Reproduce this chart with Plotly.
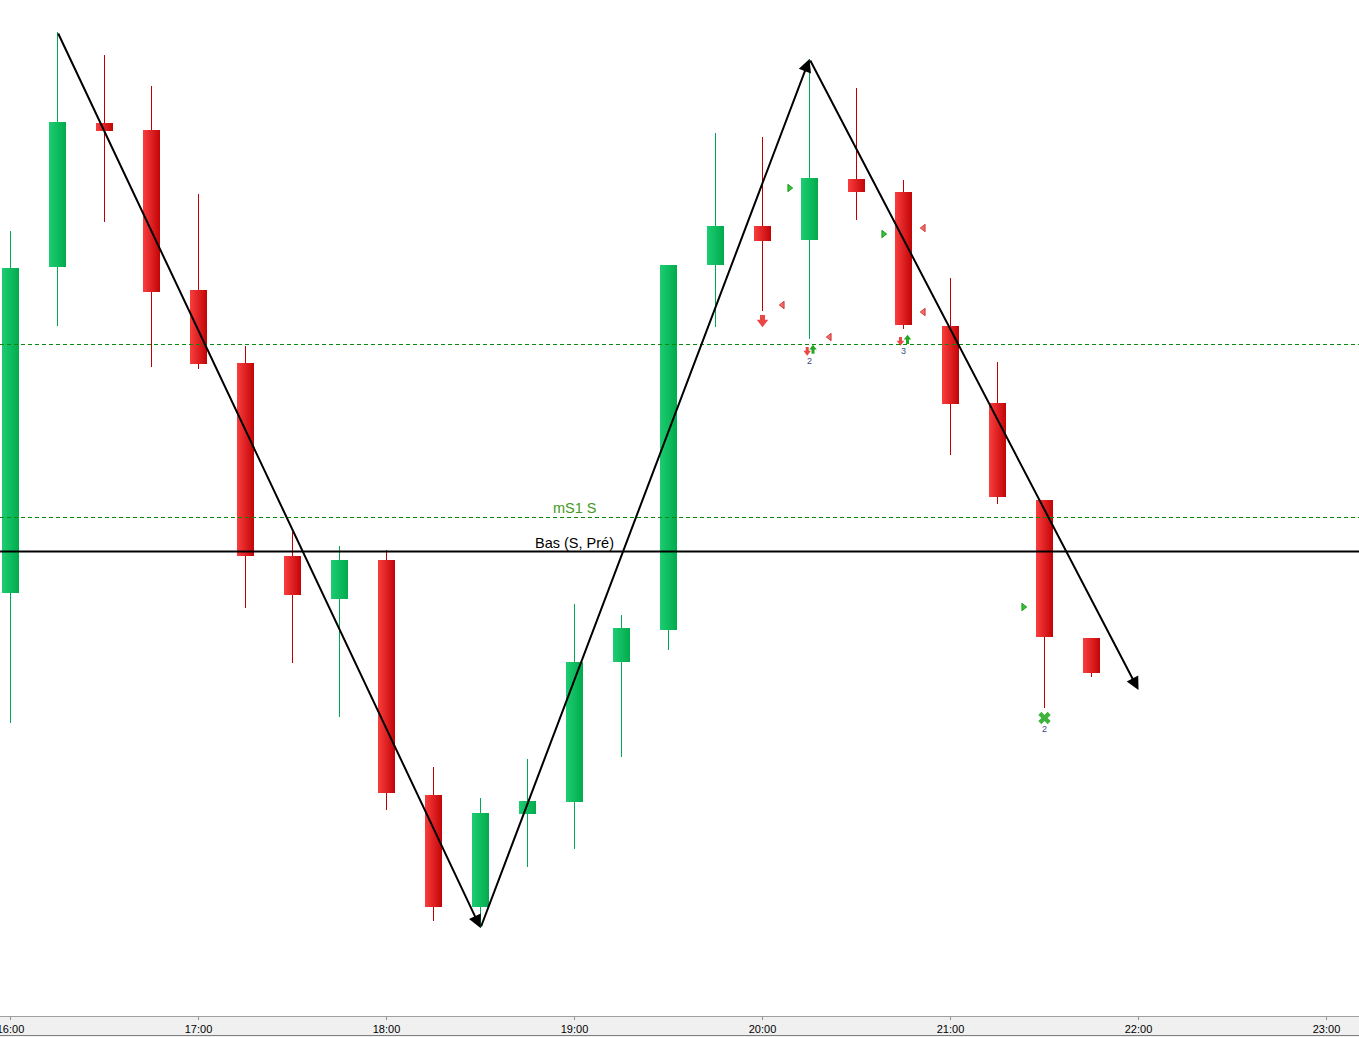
import plotly.graph_objects as go
import pandas as pd

DAY = "2024-01-15"

# ---------------- data ----------------
TIMES = ["16:00", "16:15", "16:30", "16:45", "17:00", "17:15", "17:30", "17:45",
         "18:00", "18:15", "18:30", "18:45", "19:00", "19:15", "19:30", "19:45",
         "20:00", "20:15", "20:30", "20:45", "21:00", "21:15", "21:30", "21:45"]
OPEN = [407, 733, 877, 870, 710, 637, 444, 401, 440, 205, 93, 186,
        198, 338, 370, 735, 774, 760, 821, 808, 674, 597, 500, 362]
HIGH = [769, 968, 945, 914, 806, 654, 468, 454, 450, 233, 202, 241,
        396, 385, 735, 867, 863, 941, 912, 820, 722, 638, 500, 362]
LOW = [277, 674, 778, 633, 631, 392, 337, 283, 190, 79, 72, 133,
       151, 243, 350, 673, 689, 661, 780, 671, 545, 496, 292, 323]
CLOSE = [732, 878, 869, 708, 636, 444, 405, 440, 207, 93, 187, 199,
         338, 372, 735, 774, 759, 822, 808, 675, 596, 503, 363, 327]

TICK_LABELS = ["16:00", "17:00", "18:00", "19:00", "20:00", "21:00", "22:00", "23:00"]

LEVEL_MS1 = 482.5
LEVEL_UPPER = 655.5
LEVEL_BAS = 448.5

ZIGZAG_T = ["16:15", "18:30", "20:15", "22:00"]
ZIGZAG_V = [968, 72, 941, 310]

GREEN_TRI_T = ["20:08:37", "20:38:37", "21:23:18"]
GREEN_TRI_V = [812, 766, 393]
RED_TRI_T = ["20:06:23", "20:21:23", "20:51:23", "20:51:23"]
RED_TRI_V = [695, 663, 772, 688]

DOWN_T = ["20:00:00", "20:14:16", "20:44:02"]
DOWN_TAIL = [685, 653, 663]
DOWN_TIP = [672.7, 644.3, 654.3]
DOWN_BIG = [True, False, False]
UP_T = ["20:16:07", "20:46:17"]
UP_TAIL = [646.3, 656]
UP_TIP = [655.3, 665.3]

CROSS_T = ["21:30"]
CROSS_V = [282]
COUNT_T = ["20:15", "20:45", "21:30"]
COUNT_V = [638, 648, 270]
COUNT_TXT = ["2", "3", "2"]


def ts(t):
    return pd.Timestamp(f"{DAY} {t}")


def fmt(t):
    return t.strftime("%Y-%m-%d %H:%M:%S.%f")


# ---------------- scale helpers ----------------
PX_MS = 3600000 / 188.0  # ms per pixel horizontally
x0 = ts(TIMES[0]) - pd.Timedelta(milliseconds=10.5 * PX_MS)
x1 = x0 + pd.Timedelta(milliseconds=1359 * PX_MS)

xs = [fmt(ts(t)) for t in TIMES]
n = len(TIMES)
up = [c >= o for o, c in zip(OPEN, CLOSE)]


def lerp(c1, c2, f):
    return "rgb(%d,%d,%d)" % tuple(round(a + (b - a) * f) for a, b in zip(c1, c2))


RED_L, RED_R = (248, 60, 60), (196, 6, 8)
GRN_L, GRN_R = (28, 204, 112), (2, 172, 78)
WICK_RED = "#c00000"
WICK_GRN = "#00a850"

fig = go.Figure()

# wicks (1px bars)
fig.add_trace(go.Bar(
    x=xs, base=LOW, y=[h - l for h, l in zip(HIGH, LOW)],
    width=[PX_MS] * n, offset=-0.5 * PX_MS,
    marker=dict(color=[WICK_GRN if u else WICK_RED for u in up], line=dict(width=0)),
    hoverinfo="skip", showlegend=False))

# bodies with horizontal gradient, built from thin slices
NS = 17
for i in range(NS):
    f = i / (NS - 1)
    cols = [lerp(GRN_L, GRN_R, f) if u else lerp(RED_L, RED_R, f) for u in up]
    w = (1.6 if i < NS - 1 else 1.0) * PX_MS
    fig.add_trace(go.Bar(
        x=xs, base=[min(o, c) for o, c in zip(OPEN, CLOSE)],
        y=[max(abs(c - o), 1) for o, c in zip(OPEN, CLOSE)],
        width=[w] * n, offset=(-8.5 + i) * PX_MS,
        marker=dict(color=cols, line=dict(width=0)),
        hoverinfo="skip", showlegend=False))

# signal triangles
fig.add_trace(go.Scatter(
    x=[fmt(ts(t)) for t in GREEN_TRI_T], y=GREEN_TRI_V, mode="markers",
    marker=dict(symbol="triangle-right", size=6.5, color="#36c236",
                line=dict(color="#128a12", width=0.8)),
    hoverinfo="skip", showlegend=False))
fig.add_trace(go.Scatter(
    x=[fmt(ts(t)) for t in RED_TRI_T], y=RED_TRI_V, mode="markers",
    marker=dict(symbol="triangle-left", size=6.5, color="#f06a6a",
                line=dict(color="#c82828", width=0.8)),
    hoverinfo="skip", showlegend=False))

# block arrows (shaft + head)
ARROW_RED = "#ea4646"
ARROW_GRN = "#22a822"
for t, tail, tip, big in zip(DOWN_T, DOWN_TAIL, DOWN_TIP, DOWN_BIG):
    s = 10 if big else 6.5
    c = tip + s / 2
    fig.add_trace(go.Scatter(x=[fmt(ts(t))] * 2, y=[tail, c], mode="lines",
                             line=dict(color=ARROW_RED, width=5 if big else 3),
                             hoverinfo="skip", showlegend=False))
    fig.add_trace(go.Scatter(x=[fmt(ts(t))], y=[c], mode="markers",
                             marker=dict(symbol="triangle-down", size=s, color=ARROW_RED,
                                         line=dict(width=0)),
                             hoverinfo="skip", showlegend=False))
for t, tail, tip in zip(UP_T, UP_TAIL, UP_TIP):
    s = 6.5
    c = tip - s / 2
    fig.add_trace(go.Scatter(x=[fmt(ts(t))] * 2, y=[tail, c], mode="lines",
                             line=dict(color=ARROW_GRN, width=3),
                             hoverinfo="skip", showlegend=False))
    fig.add_trace(go.Scatter(x=[fmt(ts(t))], y=[c], mode="markers",
                             marker=dict(symbol="triangle-up", size=s, color=ARROW_GRN,
                                         line=dict(width=0)),
                             hoverinfo="skip", showlegend=False))

# cross marker and count labels
fig.add_trace(go.Scatter(
    x=[fmt(ts(t)) for t in CROSS_T], y=CROSS_V, mode="markers",
    marker=dict(symbol="x", size=11, color="#3cb43c", line=dict(width=0)),
    hoverinfo="skip", showlegend=False))
fig.add_trace(go.Scatter(
    x=[fmt(ts(t)) for t in COUNT_T], y=COUNT_V, mode="text", text=COUNT_TXT,
    textfont=dict(family="Arial, Liberation Sans", size=9, color="#3c4a80"),
    hoverinfo="skip", showlegend=False))

# horizontal levels
shapes = [
    dict(type="line", xref="paper", x0=0, x1=1, yref="y", y0=LEVEL_UPPER, y1=LEVEL_UPPER,
         line=dict(color="#0a8a0a", width=1, dash="4px,3px"), layer="above"),
    dict(type="line", xref="paper", x0=0, x1=1, yref="y", y0=LEVEL_MS1, y1=LEVEL_MS1,
         line=dict(color="#0a8a0a", width=1, dash="4px,3px"), layer="above"),
    dict(type="line", xref="paper", x0=0, x1=1, yref="y", y0=LEVEL_BAS, y1=LEVEL_BAS,
         line=dict(color="#000000", width=2), layer="above"),
    dict(type="line", xref="paper", x0=0, x1=1, yref="paper", y0=-0.0192, y1=-0.0192,
         line=dict(color="#808080", width=1), layer="above"),
]

annotations = [
    dict(x=fmt(ts("19:00")), y=492, xref="x", yref="y", text="mS1 S", showarrow=False,
         font=dict(family="Arial, Liberation Sans", size=14.5, color="#42991a")),
    dict(x=fmt(ts("19:00")), y=457, xref="x", yref="y", text="Bas (S, Pré)", showarrow=False,
         font=dict(family="Arial, Liberation Sans", size=14.5, color="#000000")),
]
for k in range(len(ZIGZAG_T) - 1):
    annotations.append(dict(
        x=fmt(ts(ZIGZAG_T[k + 1])), y=ZIGZAG_V[k + 1], xref="x", yref="y",
        ax=fmt(ts(ZIGZAG_T[k])), ay=ZIGZAG_V[k], axref="x", ayref="y",
        showarrow=True, arrowhead=2, arrowsize=1.3, arrowwidth=2, arrowcolor="#000000",
        standoff=0, text=""))

fig.update_layout(
    width=1359, height=1037,
    margin=dict(l=0, r=0, t=0, b=21, pad=0),
    paper_bgcolor="#f0f0f0", plot_bgcolor="#ffffff",
    barmode="overlay", showlegend=False,
    shapes=shapes, annotations=annotations,
    xaxis=dict(type="date", range=[fmt(x0), fmt(x1)],
               tickmode="array", tickvals=[fmt(ts(t)) for t in TICK_LABELS], ticktext=TICK_LABELS,
               showgrid=False, zeroline=False, showline=True, linecolor="#a0a0a0", linewidth=1,
               ticks="outside", ticklen=3, tickcolor="#909090", automargin=False,
               ticklabeloverflow="allow",
               tickfont=dict(family="Arial, Liberation Sans", size=11, color="#000000"),
               fixedrange=True),
    yaxis=dict(range=[-16, 1000], showticklabels=False, showgrid=False, zeroline=False,
               showline=False, ticks="", automargin=False, fixedrange=True),
)

fig.write_html("out.html", config={"displayModeBar": False},
               post_script="document.body.style.margin='0';document.body.style.overflow='hidden';")
